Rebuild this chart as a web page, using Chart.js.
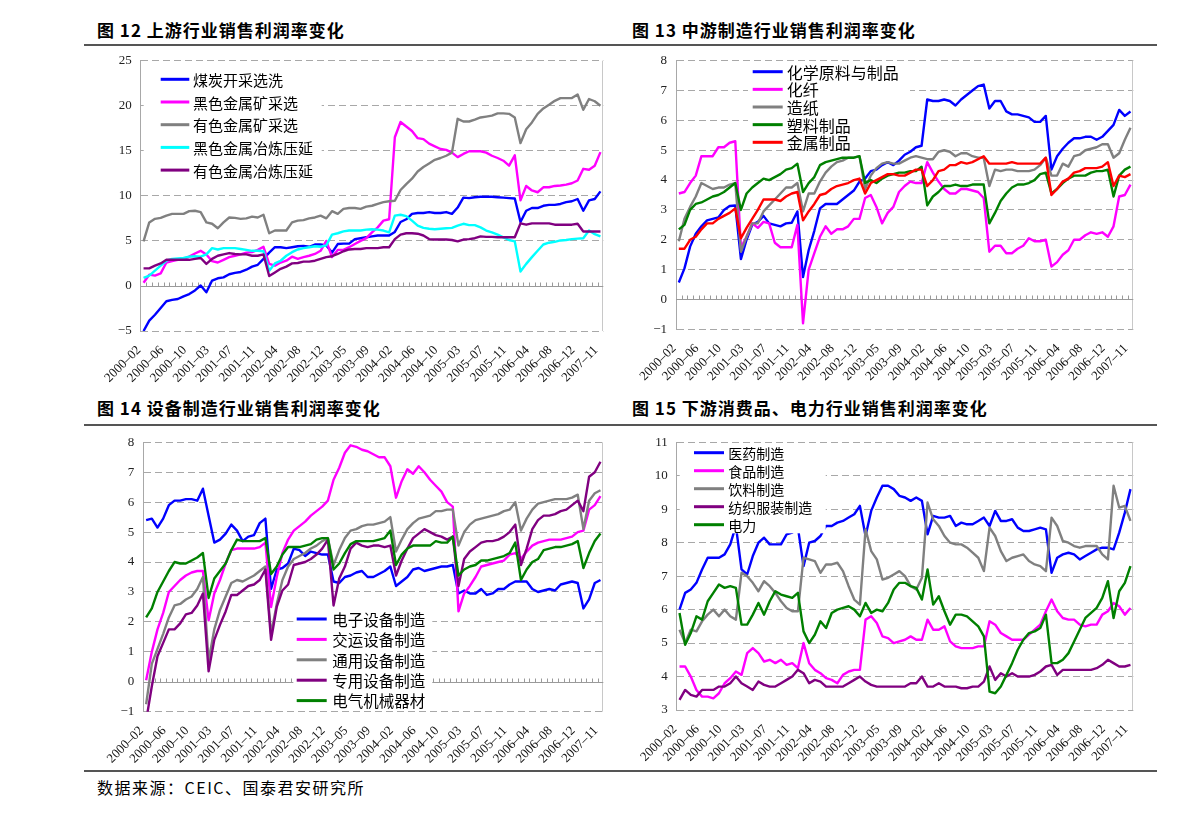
<!DOCTYPE html>
<html>
<head>
<meta charset="utf-8">
<script src="https://cdn.jsdelivr.net/npm/chart.js@4.4.1/dist/chart.umd.min.js"></script>
<style>
  body { margin: 0; background: #fff; width: 1190px; height: 816px; position: relative; overflow: hidden; font-family: "Noto Sans CJK SC", sans-serif; }
  .title { position: absolute; font-size: 17px; line-height: 1; letter-spacing: 1px; color: #000; font-weight: bold; white-space: nowrap; }
  .rule { position: absolute; left: 84px; width: 1073px; height: 2px; background: #555; }
  canvas { position: absolute; }
</style>
</head>
<body>
<div class="title" style="left:97px;top:21px">图 12 上游行业销售利润率变化</div>
<div class="title" style="left:632px;top:21px">图 13 中游制造行业销售利润率变化</div>
<div class="rule" style="top:44px"></div>
<div class="title" style="left:97px;top:399px">图 14 设备制造行业销售利润率变化</div>
<div class="title" style="left:632px;top:399px">图 15 下游消费品、电力行业销售利润率变化</div>
<div class="rule" style="top:424px"></div>
<div class="rule" style="top:770px"></div>
<div class="title" style="left:97px;top:779px;font-size:16px;font-weight:normal;letter-spacing:1.5px">数据来源：CEIC、国泰君安研究所</div>

<canvas id="c1" width="535" height="355" style="left:85px;top:50px"></canvas>
<canvas id="c2" width="540" height="355" style="left:615px;top:50px"></canvas>
<canvas id="c3" width="535" height="340" style="left:85px;top:430px"></canvas>
<canvas id="c4" width="540" height="340" style="left:615px;top:430px"></canvas>

<script>
// monthly categories (January not reported)
const months = [
  '2000-02','2000-03','2000-04','2000-05','2000-06','2000-07','2000-08','2000-09','2000-10','2000-11','2000-12',
  '2001-02','2001-03','2001-04','2001-05','2001-06','2001-07','2001-08','2001-09','2001-10','2001-11','2001-12',
  '2002-02','2002-03','2002-04','2002-05','2002-06','2002-07','2002-08','2002-09','2002-10','2002-11','2002-12',
  '2003-02','2003-03','2003-04','2003-05','2003-06','2003-07','2003-08','2003-09','2003-10','2003-11','2003-12',
  '2004-02','2004-03','2004-04','2004-05','2004-06','2004-07','2004-08','2004-09','2004-10','2004-11','2004-12',
  '2005-02','2005-03','2005-04','2005-05','2005-06','2005-07','2005-08','2005-09','2005-10','2005-11','2005-12',
  '2006-02','2006-03','2006-04','2006-05','2006-06','2006-07','2006-08','2006-09','2006-10','2006-11','2006-12',
  '2007-02','2007-05','2007-08','2007-11'
];

//fig 12 upstream
const names12 = ['煤炭开采选洗', '黑色金属矿采选', '有色金属矿采选', '黑色金属冶炼压延', '有色金属冶炼压延'];
const coalMining = [
  -5.0, -3.85, -3.2, -2.45, -1.7, -1.55, -1.45, -1.15, -0.9, -0.5, 0.05, -0.7,
  0.6, 0.85, 0.95, 1.3, 1.45, 1.55, 1.8, 2.15, 2.35, 3.0, 3.7,
  4.3, 4.3, 4.2, 4.3, 4.4, 4.45, 4.35, 4.6, 4.6, 4.5,
  3.7, 4.65, 4.7, 4.7, 5.2, 5.3, 5.4, 5.5, 5.6, 5.6, 5.6,
  6.0, 7.1, 7.4, 8.0, 8.1, 8.1, 8.2, 8.1, 8.1, 8.2, 8.0,
  8.7, 9.8, 9.75, 9.85, 9.9, 9.9, 9.9, 9.85, 9.8, 9.75, 9.7,
  7.1, 8.35, 8.65, 8.65, 8.9, 9.0, 9.0, 9.1, 9.3, 9.4, 9.65,
  8.35, 9.5, 9.65, 10.5
];
const ferrousMining = [
  0.35, 1.25, 1.15, 1.4, 2.6, 2.75, 2.9, 3.0, 3.25, 3.6, 3.9, 3.5,
  2.75, 2.6, 2.9, 3.2, 3.35, 3.5, 3.7, 3.75, 4.0, 4.35, 2.45,
  2.25, 2.6, 2.8, 3.25, 3.0, 3.2, 3.35, 3.55, 3.9, 5.0,
  3.2, 4.0, 4.0, 4.3, 4.65, 5.0, 5.3, 5.95, 6.5, 7.25, 7.4,
  16.5, 18.2, 17.7, 17.2, 16.4, 16.3, 15.8, 15.5, 15.2, 15.1, 14.8,
  14.3, 14.65, 14.95, 14.95, 14.95, 14.8, 14.45, 14.2, 13.9, 13.35, 14.5,
  9.5, 11.1, 10.6, 10.4, 10.95, 10.95, 11.1, 11.15, 11.25, 11.4, 11.7,
  13.0, 12.9, 13.35, 14.85
];
const nonferrousMining = [
  4.95, 7.05, 7.45, 7.55, 7.8, 8.0, 8.0, 8.0, 8.3, 8.35, 8.2, 7.05,
  6.9, 6.4, 7.05, 7.6, 7.55, 7.45, 7.5, 7.7, 7.6, 7.9, 5.85,
  6.15, 6.15, 6.15, 7.05, 7.25, 7.3, 7.5, 7.6, 7.8, 7.5,
  8.3, 8.0, 8.55, 8.65, 8.65, 8.55, 8.8, 8.9, 9.1, 9.3, 9.4,
  9.45, 10.65, 11.3, 11.9, 12.7, 13.2, 13.6, 14.0, 14.2, 14.45, 14.8,
  18.55, 18.25, 18.25, 18.45, 18.7, 18.8, 18.9, 19.15, 19.15, 19.1, 18.7,
  15.85, 17.4, 18.15, 19.1, 19.7, 20.1, 20.55, 20.85, 20.85, 20.85, 21.25,
  19.55, 20.75, 20.5, 20.0
];
const ferrousSmelting = [
  0.9, 1.15, 1.7, 2.25, 2.8, 3.0, 3.05, 3.1, 3.25, 3.3, 3.25, 3.5,
  4.2, 4.05, 4.2, 4.2, 4.2, 4.1, 4.0, 3.9, 3.9, 3.85, 1.7,
  2.5, 2.8, 3.35, 3.75, 4.05, 4.2, 4.3, 4.4, 4.35, 4.5,
  5.7, 5.85, 6.05, 6.15, 6.15, 6.15, 6.25, 6.3, 6.25, 6.15, 5.95,
  7.8, 7.9, 7.75, 7.25, 6.7, 6.45, 6.35, 6.3, 6.35, 6.4, 6.45,
  6.7, 6.9, 6.75, 6.75, 6.5, 6.15, 5.95, 5.7, 5.4, 5.1, 4.95,
  1.6, 2.45, 3.2, 3.9, 4.6, 4.8, 4.9, 5.05, 5.1, 5.2, 5.25,
  5.3, 6.15, 5.75, 5.5
];
const nonferrousSmelting = [
  1.95, 1.95, 2.25, 2.5, 2.9, 2.9, 2.9, 2.9, 2.9, 3.0, 3.1, 2.45,
  3.0, 3.35, 3.5, 3.65, 3.55, 3.5, 3.5, 3.35, 3.35, 3.5, 1.1,
  1.5, 1.9, 2.15, 2.5, 2.55, 2.7, 2.7, 2.8, 3.0, 3.2,
  3.3, 3.55, 3.85, 4.05, 4.1, 4.1, 4.2, 4.2, 4.2, 4.3, 4.3,
  5.2, 5.7, 5.85, 5.85, 5.8, 5.6, 5.2, 5.15, 5.15, 5.15, 5.1,
  4.95, 5.15, 5.2, 5.3, 5.5, 5.45, 5.45, 5.4, 5.4, 5.4, 5.4,
  6.95, 6.8, 6.95, 6.95, 6.95, 6.95, 6.8, 6.8, 6.8, 6.8, 6.9,
  6.05, 6.05, 6.05, 6.05
];

//fig 13 midstream
const names13 = ['化学原料与制品', '化纤', '造纸', '塑料制品', '金属制品'];
const chemicals = [
  0.57, 1.04, 1.77, 2.2, 2.45, 2.65, 2.7, 2.75, 3.0, 3.13, 3.15,
  1.35, 2.0, 2.5, 2.6, 2.8, 2.55, 2.5, 2.45, 2.55, 2.57, 2.95,
  0.75, 1.65, 2.3, 3.05, 3.2, 3.2, 3.2, 3.35, 3.5, 3.65, 3.95,
  4.05, 4.3, 4.35, 4.5, 4.6, 4.5, 4.65, 4.85, 4.95, 5.1, 5.15,
  6.7, 6.65, 6.65, 6.7, 6.65, 6.5, 6.7, 6.85, 7.0, 7.15, 7.2,
  6.4, 6.65, 6.65, 6.3, 6.2, 6.2, 6.15, 6.1, 5.95, 5.95, 6.15,
  4.35, 4.8, 5.05, 5.25, 5.4, 5.4, 5.45, 5.45, 5.35, 5.45, 5.65,
  5.85, 6.35, 6.15, 6.3
];
const chemFiber = [
  3.55, 3.6, 3.9, 4.15, 4.8, 4.8, 4.8, 5.1, 5.1, 5.25, 5.3,
  1.75, 2.1, 2.55, 2.4, 2.6, 2.55, 1.9, 1.75, 1.75, 1.75, 2.5,
  -0.8, 1.0, 1.55, 2.1, 2.45, 2.2, 2.35, 2.35, 2.45, 2.7, 2.7,
  3.4, 3.5, 3.1, 2.55, 2.9, 3.1, 3.6, 3.8, 3.95, 3.9, 3.9,
  4.6, 4.25, 3.95, 3.7, 3.55, 3.55, 3.7, 3.7, 3.65, 3.6, 3.4,
  1.6, 1.8, 1.8, 1.55, 1.55, 1.7, 1.8, 2.05, 1.95, 1.95, 2.0,
  1.1, 1.25, 1.5, 1.65, 2.0, 2.0, 2.15, 2.25, 2.2, 2.25, 2.1,
  2.45, 3.45, 3.5, 3.85
];
const paper = [
  1.95, 2.7, 3.1, 3.45, 3.9, 3.8, 3.7, 3.75, 3.75, 3.85, 3.9,
  1.6, 2.1, 2.55, 2.55, 2.95, 3.15, 3.35, 3.55, 3.75, 3.75, 3.9,
  2.95, 3.55, 3.55, 3.95, 4.25, 4.45, 4.6, 4.65, 4.75, 4.75, 4.8,
  3.7, 4.15, 4.4, 4.55, 4.6, 4.55, 4.55, 4.65, 4.75, 4.8, 4.75,
  4.7, 4.7, 4.95, 5.0, 4.95, 4.8, 4.9, 4.9, 4.8, 4.75, 4.75,
  3.8, 4.35, 4.3, 4.35, 4.35, 4.3, 4.3, 4.3, 4.35, 4.5, 4.75,
  4.15, 4.15, 4.55, 4.45, 4.8, 4.85, 5.0, 5.05, 5.1, 5.2, 5.2,
  4.75, 4.9, 5.35, 5.75
];
const plastics = [
  2.35, 2.5, 3.0, 3.2, 3.25, 3.35, 3.45, 3.5, 3.6, 3.75, 3.9,
  3.0, 3.55, 3.75, 3.9, 4.05, 4.0, 4.1, 4.2, 4.35, 4.4, 4.55,
  3.6, 3.9, 4.1, 4.5, 4.6, 4.65, 4.7, 4.75, 4.75, 4.75, 4.8,
  3.9, 4.0, 3.9, 4.05, 4.15, 4.2, 4.25, 4.25, 4.3, 4.3, 4.45,
  3.15, 3.45, 3.6, 3.8, 3.8, 3.85, 3.8, 3.8, 3.85, 3.85, 3.85,
  2.55, 2.9, 3.3, 3.55, 3.75, 3.85, 3.85, 3.9, 4.0, 4.2, 4.25,
  3.55, 3.7, 3.9, 4.05, 4.15, 4.15, 4.15, 4.25, 4.3, 4.3, 4.35,
  3.45, 4.15, 4.35, 4.45
];
const metalProducts = [
  1.7, 1.7, 2.0, 2.1, 2.35, 2.55, 2.55, 2.7, 2.8, 2.9, 3.05,
  2.05, 2.4, 2.7, 3.0, 3.35, 3.35, 3.35, 3.3, 3.45, 3.55, 3.6,
  2.65, 2.95, 3.2, 3.5, 3.55, 3.7, 3.8, 3.85, 3.9, 4.0, 4.05,
  3.55, 3.9, 4.0, 4.1, 4.2, 4.2, 4.15, 4.15, 4.25, 4.35, 4.35,
  3.8, 4.0, 4.3, 4.35, 4.5, 4.5, 4.6, 4.55, 4.6, 4.7, 4.8,
  4.55, 4.55, 4.55, 4.55, 4.6, 4.55, 4.55, 4.55, 4.55, 4.55, 4.75,
  3.5, 3.7, 3.95, 4.05, 4.25, 4.3, 4.4, 4.4, 4.4, 4.45, 4.6,
  3.8, 4.15, 4.1, 4.2
];

//fig 14 equipment
const names14 = ['电子设备制造', '交运设备制造', '通用设备制造', '专用设备制造', '电气机械器材'];
const electronics = [
  5.4, 5.45, 5.15, 5.45, 5.9, 6.05, 6.05, 6.1, 6.1, 6.05, 6.45,
  5.55, 4.65, 4.75, 4.95, 5.25, 5.05, 4.7, 4.85, 4.9, 5.3, 5.45,
  3.1, 3.75, 3.8, 3.95, 4.45, 4.4, 4.2, 4.35, 4.3, 4.25, 4.25,
  3.35, 3.3, 3.5, 3.55, 3.65, 3.7, 3.5, 3.5, 3.6, 3.7, 3.85,
  3.2, 3.35, 3.5, 3.75, 3.8, 3.7, 3.75, 3.8, 3.85, 3.85, 3.9,
  2.95, 3.05, 2.95, 2.95, 3.1, 2.9, 2.95, 3.1, 3.1, 3.25, 3.35,
  3.35, 3.35, 3.1, 3.0, 3.05, 3.1, 3.05, 3.25, 3.3, 3.35, 3.3,
  2.45, 2.75, 3.3, 3.4
];
const transportEquip = [
  0.05, 1.0, 1.75, 2.3, 3.0, 3.2, 3.4, 3.55, 3.65, 3.7, 3.7,
  2.05, 2.95, 3.4, 3.95, 4.4, 4.45, 4.45, 4.45, 4.45, 4.5, 4.65,
  2.5, 3.5, 4.3, 4.75, 5.05, 5.2, 5.35, 5.55, 5.7, 5.85, 6.05,
  6.75, 7.15, 7.65, 7.9, 7.85, 7.75, 7.7, 7.6, 7.5, 7.5, 7.2,
  6.15, 6.7, 7.1, 6.95, 7.2, 7.0, 6.75, 6.55, 6.35, 6.0, 5.85,
  2.35, 2.95, 3.2, 3.5, 3.85, 3.9, 3.95, 4.0, 4.05, 4.25, 4.3,
  4.1, 4.35, 4.55, 4.65, 4.7, 4.75, 4.75, 4.75, 4.8, 4.85, 5.0,
  5.05, 5.75, 5.9, 6.2
];
const generalEquip = [
  -0.75, 0.6, 1.1, 1.6, 2.15, 2.55, 2.6, 2.75, 2.85, 3.1, 3.5,
  0.7, 1.75, 2.4, 2.85, 3.3, 3.4, 3.35, 3.45, 3.55, 3.7, 3.85,
  1.6, 2.6, 3.4, 3.85, 4.1, 4.2, 4.3, 4.45, 4.55, 4.7, 4.8,
  3.9, 4.4, 4.8, 5.05, 5.1, 5.2, 5.25, 5.25, 5.3, 5.35, 5.5,
  4.35, 4.75, 5.1, 5.3, 5.45, 5.5, 5.55, 5.7, 5.7, 5.75, 5.75,
  4.55, 5.0, 5.25, 5.4, 5.45, 5.5, 5.55, 5.6, 5.7, 5.75, 6.0,
  5.05, 5.45, 5.75, 5.95, 6.0, 6.05, 6.1, 6.1, 6.1, 6.15, 6.25,
  5.1, 6.05, 6.3, 6.4
];
const specialEquip = [
  -1.3, -0.15, 0.85, 1.3, 1.75, 1.75, 1.95, 2.25, 2.3, 2.55, 2.95,
  0.35, 1.4, 1.9, 2.35, 2.9, 2.9, 3.05, 3.2, 3.25, 3.4, 3.75,
  1.4, 2.5, 3.05, 3.25, 3.9, 3.95, 4.0, 4.1, 4.25, 4.45, 4.75,
  2.55, 3.45, 3.85, 4.45, 4.65, 4.55, 4.5, 4.55, 4.55, 4.5, 4.55,
  3.55, 4.05, 4.45, 4.8, 4.95, 5.1, 5.0, 4.9, 4.85, 4.75, 4.85,
  3.2, 4.1, 4.35, 4.5, 4.65, 4.7, 4.7, 4.75, 4.85, 5.0, 5.25,
  3.9, 4.45, 5.1, 5.4, 5.55, 5.55, 5.6, 5.7, 5.75, 5.9, 6.05,
  5.7, 6.85, 7.0, 7.35
];
const electricalMach = [
  2.15, 2.45, 3.0, 3.35, 3.7, 4.0, 3.95, 3.95, 4.05, 4.15, 4.3,
  2.8, 3.45, 3.7, 3.95, 4.4, 4.75, 4.7, 4.7, 4.7, 4.7, 4.8,
  3.6, 3.85, 4.25, 4.5, 4.5, 4.5, 4.55, 4.6, 4.75, 4.8, 4.8,
  3.75, 3.95, 4.3, 4.6, 4.7, 4.7, 4.7, 4.7, 4.75, 4.8, 5.05,
  3.9, 4.25, 4.45, 4.55, 4.55, 4.55, 4.55, 4.7, 4.65, 4.65, 4.85,
  3.55, 3.75, 3.85, 3.9, 4.05, 4.05, 4.1, 4.15, 4.2, 4.3, 4.65,
  3.4, 3.75, 4.0, 4.1, 4.4, 4.45, 4.5, 4.5, 4.55, 4.6, 4.7,
  3.8, 4.3, 4.7, 4.95
];

//fig 15 downstream & power
const names15 = ['医药制造', '食品制造', '饮料制造', '纺织服装制造', '电力'];
const pharma = [
  6.0, 6.5, 6.6, 6.8, 7.2, 7.55, 7.55, 7.55, 7.65, 7.95, 8.5,
  7.2, 7.05, 7.6, 8.0, 8.15, 7.95, 7.95, 7.95, 8.25, 8.3, 8.45,
  7.3, 8.0, 8.05, 8.2, 8.5, 8.5, 8.6, 8.65, 8.75, 8.85, 9.1,
  8.2, 8.95, 9.35, 9.7, 9.7, 9.6, 9.4, 9.35, 9.25, 9.35, 9.25,
  8.25, 8.8, 8.75, 8.75, 8.8, 8.5, 8.6, 8.55, 8.55, 8.65, 8.75,
  8.5, 8.95, 8.65, 8.65, 8.7, 8.45, 8.35, 8.35, 8.4, 8.45, 8.4,
  7.1, 7.55, 7.65, 7.7, 7.65, 7.5, 7.6, 7.7, 7.8, 7.85, 7.85,
  7.8, 8.3, 8.9, 9.6
];
const food = [
  4.3, 4.3, 4.0, 3.6, 3.4, 3.4, 3.35, 3.5, 3.8, 3.95, 4.15,
  4.05, 4.7, 4.85, 4.7, 4.45, 4.5, 4.4, 4.5, 4.35, 4.4, 4.25,
  5.0, 4.4, 4.2, 4.1, 3.95, 3.9, 3.8, 4.05, 4.15, 4.2, 4.2,
  5.7, 5.8, 5.6, 5.2, 5.15, 5.0, 5.05, 5.1, 5.2, 5.1, 5.1,
  5.7, 5.4, 5.4, 5.5, 5.05, 4.9, 4.85, 4.85, 4.85, 4.9, 4.9,
  5.65, 5.55, 5.3, 5.2, 5.1, 5.1, 5.1, 5.25, 5.4, 5.55, 5.95,
  6.3, 5.95, 5.75, 5.7, 5.7, 5.55, 5.5, 5.55, 5.55, 5.85, 5.95,
  6.2, 6.1, 5.85, 6.05
];
const beverage = [
  5.4, 5.0, 5.4, 5.35, 5.65, 5.85, 6.0, 5.8, 6.0, 5.8, 5.7,
  7.1, 7.0, 6.8, 6.55, 6.85, 6.7, 6.5, 6.25, 6.05, 5.95, 5.95,
  7.55, 7.5, 7.45, 7.1, 7.35, 7.35, 7.4, 7.15, 6.7, 6.3, 6.15,
  8.4, 7.75, 7.5, 6.9, 6.95, 7.05, 7.15, 7.0, 6.7, 6.6, 6.95,
  9.2, 8.7, 8.5, 8.2, 8.0, 7.95, 7.95, 7.85, 7.7, 7.55, 7.15,
  8.45, 8.2, 7.75, 7.45, 7.55, 7.6, 7.65, 7.45, 7.35, 7.3, 7.15,
  8.75, 8.5, 8.05, 8.0, 7.9, 7.85, 7.9, 7.9, 7.9, 7.65, 7.5,
  9.7, 9.05, 9.1, 8.65
];
const textile = [
  3.3, 3.6, 3.45, 3.4, 3.6, 3.6, 3.6, 3.7, 3.7, 3.8, 4.0,
  3.8, 3.7, 3.6, 3.85, 3.75, 3.7, 3.7, 3.8, 3.9, 4.0, 4.2,
  4.1, 3.8, 3.9, 3.85, 3.7, 3.7, 3.7, 3.7, 3.8, 3.9, 4.0,
  3.85, 3.75, 3.7, 3.7, 3.7, 3.7, 3.7, 3.7, 3.8, 3.8, 4.0,
  3.7, 3.7, 3.8, 3.7, 3.7, 3.7, 3.65, 3.65, 3.7, 3.7, 3.85,
  4.3, 3.9, 4.1, 4.0, 4.1, 4.0, 4.0, 4.0, 4.05, 4.15, 4.3,
  4.35, 4.05, 4.2, 4.2, 4.2, 4.2, 4.2, 4.2, 4.25, 4.35, 4.5,
  4.4, 4.3, 4.3, 4.35
];
const power = [
  5.9, 4.95, 5.3, 5.8, 5.7, 6.25, 6.5, 6.75, 6.65, 6.7, 6.65,
  5.55, 5.55, 5.85, 6.2, 5.85, 6.25, 6.55, 6.45, 6.4, 6.35, 6.5,
  5.35, 5.0, 5.25, 5.65, 5.45, 5.9, 6.0, 6.05, 6.1, 6.0, 5.8,
  6.2, 5.9, 6.0, 5.95, 6.2, 6.6, 6.8, 6.8, 6.7, 6.65, 6.3,
  7.2, 6.15, 6.4, 5.95, 5.55, 5.85, 5.85, 5.8, 5.65, 5.5, 5.2,
  3.55, 3.5, 3.7, 4.05, 4.4, 4.8, 5.1, 5.3, 5.35, 5.45, 5.85,
  4.4, 4.4, 4.5, 4.7, 5.05, 5.4, 5.75, 5.9, 6.05, 6.35, 6.85,
  5.75, 6.55, 6.8, 7.3
];

const FONT_CJK = '"Noto Sans CJK SC", sans-serif';
const FONT_NUM = '"Liberation Serif", "Times New Roman", serif';

//builds one panel; geometry is in canvas pixels
function buildPanel(id, o) {
  const nCat = months.length;
  const lg = o.legend;

  const overlay = {
    id: 'overlay',
    beforeDatasetsDraw(chart) {
      const { ctx, chartArea: ca, scales } = chart;
      ctx.save();
      ctx.lineWidth = 1;
      ctx.strokeStyle = '#c8c8c8';
      ctx.beginPath();
      ctx.moveTo(Math.round(ca.right) - 0.5, ca.top);
      ctx.lineTo(Math.round(ca.right) - 0.5, ca.bottom);
      ctx.stroke();
      if (o.zeroAxis) {
        //category axis crossing at 0 with small tick marks
        const y0 = Math.round(scales.y.getPixelForValue(0)) + 0.5;
        const w = (ca.right - ca.left) / nCat;
        ctx.strokeStyle = '#9a9a9a';
        ctx.beginPath();
        ctx.moveTo(ca.left, y0);
        ctx.lineTo(ca.right, y0);
        for (let k = 1; k < nCat; k++) {
          const x = Math.round(ca.left + k * w) + 0.5;
          ctx.moveTo(x, y0);
          ctx.lineTo(x, y0 - 4);
        }
        ctx.stroke();
      }
      ctx.restore();
    },
    afterDatasetsDraw(chart) {
      const { ctx, chartArea: ca } = chart;
      ctx.save();
      ctx.fillStyle = '#fff';
      ctx.fillRect(ca.left + lg.box[0], ca.top + lg.box[1], lg.box[2], lg.box[3]);
      ctx.font = lg.font + 'px ' + FONT_CJK;
      ctx.textBaseline = 'middle';
      ctx.textAlign = 'left';
      o.names.forEach((name, i) => {
        const y = ca.top + lg.y0 + i * lg.dy;
        ctx.strokeStyle = o.colors[i];
        ctx.lineWidth = 3;
        ctx.beginPath();
        ctx.moveTo(ca.left + lg.x0, y);
        ctx.lineTo(ca.left + lg.x1, y);
        ctx.stroke();
        ctx.fillStyle = '#000';
        ctx.fillText(name, ca.left + lg.tx, y + 1);
      });
      ctx.restore();
    }
  };

  return new Chart(document.getElementById(id), {
    type: 'line',
    data: {
      labels: months,
      datasets: o.series.map((d, i) => ({
        label: o.names[i],
        data: d,
        borderColor: o.colors[i],
        backgroundColor: o.colors[i],
        borderWidth: 2.4,
        pointRadius: 0,
        tension: 0,
        borderJoinStyle: 'round',
        order: o.series.length - i //later series on top, like excel
      }))
    },
    options: {
      responsive: false,
      animation: false,
      events: [],
      layout: { padding: { top: o.padTop, right: o.padRight, left: 0, bottom: 0 } },
      plugins: { legend: { display: false }, tooltip: { enabled: false } },
      scales: {
        x: {
          type: 'category',
          offset: true,
          grid: { display: false, drawTicks: false },
          border: { display: false },
          ticks: {
            autoSkip: false,
            minRotation: 45,
            maxRotation: 45,
            padding: 7,
            color: '#111',
            font: { family: FONT_NUM, size: 13 },
            //trailing en space nudges the label end like excel does
            callback: (v, i) => (i % 4 === 0 ? months[i].replace('-', '\u2013') + '\u2002' : '')
          },
          afterFit(s) { s.height = o.xHeight; s.paddingLeft = 0; s.paddingRight = 0; }
        },
        y: {
          min: o.min,
          max: o.max,
          ticks: {
            stepSize: o.step,
            padding: 9,
            color: '#222',
            font: { family: FONT_NUM, size: 13 },
            callback: v => String(v).replace('-', '\u2212')
          },
          grid: {
            color: c => (o.zeroAxis && c.tick && c.tick.value === 0) ? 'rgba(0,0,0,0)' : '#a8a8a8',
            drawTicks: false,
            lineWidth: 1,
            borderDash: [7, 4]
          },
          border: { display: true, color: '#a8a8a8', dash: [7, 4] },
          afterFit(s) { s.width = o.yWidth; s.paddingTop = 0; s.paddingBottom = 0; }
        }
      }
    },
    plugins: [overlay]
  });
}

buildPanel('c1', {
  names: names12,
  series: [coalMining, ferrousMining, nonferrousMining, ferrousSmelting, nonferrousSmelting],
  colors: ['#0000ff', '#ff00ff', '#808080', '#00ffff', '#800080'],
  min: -5, max: 25, step: 5, zeroAxis: true,
  yWidth: 55.7, padTop: 10.7, padRight: 16.7, xHeight: 74,
  legend: { box: [3, 3, 178, 121], x0: 20, x1: 48.6, tx: 52.3, y0: 18.6, dy: 22.7, font: 15 }
});

buildPanel('c2', {
  names: names13,
  series: [chemicals, chemFiber, paper, plastics, metalProducts],
  colors: ['#0000ff', '#ff00ff', '#808080', '#008000', '#ff0000'],
  min: -1, max: 8, step: 1, zeroAxis: true,
  yWidth: 61, padTop: 10.7, padRight: 21.7, xHeight: 75.7,
  legend: { box: [72, 2, 162, 85], x0: 76.7, x1: 106.7, tx: 110.7, y0: 11, dy: 17.65, font: 16 }
});

buildPanel('c3', {
  names: names14,
  series: [electronics, transportEquip, generalEquip, specialEquip, electricalMach],
  colors: ['#0000ff', '#ff00ff', '#808080', '#800080', '#008000'],
  min: -1, max: 8, step: 1, zeroAxis: true,
  yWidth: 58.3, padTop: 12.3, padRight: 16.7, xHeight: 58.3,
  legend: { box: [150, 166, 139, 101], x0: 153.4, x1: 183.4, tx: 189, y0: 176.7, dy: 20.4, font: 15.5 }
});

buildPanel('c4', {
  names: names15,
  series: [pharma, food, beverage, textile, power],
  colors: ['#0000ff', '#ff00ff', '#808080', '#800080', '#008000'],
  min: 3, max: 11, step: 1, zeroAxis: false,
  yWidth: 61.7, padTop: 12.3, padRight: 21.7, xHeight: 60,
  legend: { box: [3, 2, 146, 89], x0: 17.3, x1: 47.3, tx: 51.6, y0: 10.4, dy: 18, font: 14 }
});
</script>
</body>
</html>
